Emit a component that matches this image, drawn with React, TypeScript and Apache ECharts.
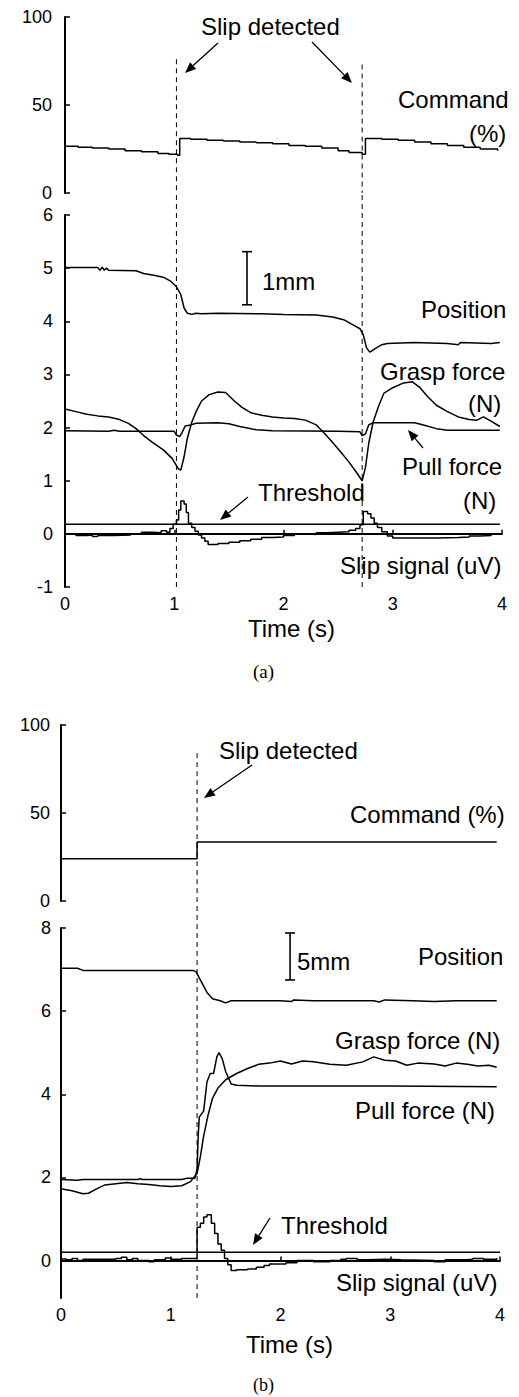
import { useEffect, useRef } from "react";
import * as echarts from "echarts";

type Pt = [number, number];

const SANS = '"Liberation Sans", Arial, Helvetica, sans-serif';
const SERIF = '"Liberation Serif", "Times New Roman", serif';

// ---------- shared axis values ----------
const timeTicks = [0, 1, 2, 3, 4];
const commandTicks = [0, 50, 100];
const lowerTicksA = [-1, 0, 1, 2, 3, 4, 5, 6];
const lowerTicksB = [0, 2, 4, 6, 8];

// ---------- panel (a) ----------
const slipTimesA = [1.02, 2.72];
const dashTopA = [76, 73];

const commandA: Pt[] = [
  [0, 26.5], [0.12, 26], [0.25, 25.5], [0.4, 25], [0.55, 24], [0.7, 23.5],
  [0.85, 22.5], [0.95, 22], [1.03, 21.5], [1.05, 31], [1.15, 30.5], [1.3, 30],
  [1.45, 29.5], [1.6, 29], [1.75, 28.5], [1.9, 28], [2.05, 27], [2.2, 26.5],
  [2.35, 25.5], [2.5, 24], [2.6, 23], [2.72, 22], [2.75, 31], [2.9, 30.5],
  [3.05, 30], [3.2, 29], [3.35, 28], [3.5, 27], [3.65, 26], [3.8, 25], [3.96, 24],
];

const positionA: Pt[] = [
  [0, 5.01], [0.3, 5.01], [0.32, 4.96], [0.34, 5.02], [0.36, 4.96], [0.38, 5.0],
  [0.4, 4.96], [0.65, 4.95], [0.72, 4.9], [0.8, 4.87], [0.9, 4.83], [0.97, 4.75],
  [1.02, 4.65], [1.06, 4.5], [1.09, 4.25], [1.12, 4.15], [1.16, 4.13], [1.2, 4.15],
  [1.25, 4.14], [1.4, 4.15], [1.8, 4.14], [2.0, 4.13], [2.3, 4.12], [2.45, 4.08],
  [2.55, 4.03], [2.62, 3.95], [2.7, 3.86], [2.73, 3.75], [2.76, 3.5], [2.79, 3.42],
  [2.85, 3.5], [2.9, 3.56], [2.95, 3.58], [3.2, 3.6], [3.5, 3.58], [3.6, 3.56],
  [3.62, 3.6], [3.9, 3.58], [3.98, 3.6],
];

const graspA: Pt[] = [
  [0, 2.35], [0.1, 2.3], [0.2, 2.25], [0.3, 2.22], [0.4, 2.2], [0.5, 2.15],
  [0.58, 2.08], [0.65, 1.98], [0.72, 1.85], [0.8, 1.72], [0.9, 1.58], [0.98, 1.42],
  [1.04, 1.22], [1.06, 1.2], [1.09, 1.45], [1.12, 1.8], [1.16, 2.1], [1.2, 2.3],
  [1.25, 2.5], [1.32, 2.62], [1.4, 2.67], [1.47, 2.66], [1.55, 2.5], [1.62, 2.38],
  [1.7, 2.28], [1.8, 2.23], [1.9, 2.2], [2.0, 2.18], [2.1, 2.17], [2.2, 2.14],
  [2.3, 2.05], [2.38, 1.88], [2.45, 1.72], [2.52, 1.55], [2.6, 1.35], [2.67, 1.15],
  [2.72, 1.0], [2.75, 1.25], [2.78, 1.7], [2.82, 2.1], [2.87, 2.4], [2.92, 2.65],
  [3.0, 2.75], [3.1, 2.84], [3.18, 2.86], [3.25, 2.75], [3.32, 2.58], [3.4, 2.42],
  [3.5, 2.3], [3.6, 2.2], [3.7, 2.15], [3.77, 2.14], [3.83, 2.2], [3.9, 2.12],
  [3.98, 2.02],
];

const pullA: Pt[] = [
  [0, 1.94], [0.4, 1.93], [0.45, 1.95], [0.5, 1.93], [1.0, 1.93], [1.02, 1.86],
  [1.05, 1.83], [1.07, 1.9], [1.1, 2.03], [1.15, 2.05], [1.2, 2.08], [1.4, 2.09],
  [1.5, 2.07], [1.6, 2.02], [1.75, 1.96], [1.9, 1.94], [2.5, 1.93], [2.7, 1.92],
  [2.72, 1.85], [2.75, 1.88], [2.78, 2.05], [2.82, 2.09], [3.2, 2.09], [3.28, 2.05],
  [3.4, 1.98], [3.5, 1.95], [3.7, 1.95], [3.98, 1.95],
];

const slipA: Pt[] = [
  [0, 0.0], [0.1, -0.03], [0.2, -0.02], [0.25, -0.05], [0.3, -0.03], [0.45, -0.02],
  [0.6, 0.0], [0.7, 0.03], [0.8, 0.02], [0.88, 0.06], [0.93, 0.03], [0.96, 0.1],
  [0.99, 0.18], [1.02, 0.26], [1.04, 0.45], [1.06, 0.62], [1.09, 0.56], [1.11, 0.4],
  [1.13, 0.2], [1.16, 0.12], [1.19, 0.05], [1.22, -0.02], [1.25, -0.08], [1.28, -0.14],
  [1.31, -0.2], [1.4, -0.18], [1.5, -0.16], [1.6, -0.13], [1.7, -0.1], [1.8, -0.07],
  [1.9, -0.06], [2.0, -0.03], [2.1, 0.0], [2.2, -0.01], [2.3, 0.02], [2.4, 0.03],
  [2.5, 0.04], [2.6, 0.07], [2.66, 0.1], [2.7, 0.17], [2.73, 0.42], [2.77, 0.38],
  [2.8, 0.3], [2.83, 0.2], [2.86, 0.12], [2.9, 0.04], [2.95, -0.04], [3.0, -0.08],
  [3.2, -0.08], [3.4, -0.07], [3.6, -0.06], [3.7, -0.04], [3.8, -0.03], [3.9, 0.0],
  [3.98, -0.02],
];

const thresholdA: Pt[] = [[0, 0.18], [3.98, 0.18]];
const scaleBarA: Pt[] = [[1.666, 4.31], [1.666, 5.31]]; // 1 mm

// ---------- panel (b) ----------
const slipTimesB = [1.24];
const dashTopB = [84];

const commandB: Pt[] = [[0, 24], [1.24, 24], [1.24, 33.5], [3.97, 33.5]];

const positionB: Pt[] = [
  [0, 7.03], [0.15, 7.03], [0.2, 6.98], [1.2, 6.98], [1.23, 6.95], [1.28, 6.7],
  [1.33, 6.45], [1.38, 6.3], [1.45, 6.25], [1.5, 6.2], [1.55, 6.25], [2.0, 6.25],
  [2.1, 6.23], [2.12, 6.27], [2.3, 6.25], [2.85, 6.25], [2.9, 6.22], [2.95, 6.27],
  [3.2, 6.25], [3.4, 6.23], [3.6, 6.25], [3.97, 6.25],
];

const graspB: Pt[] = [
  [0, 1.73], [0.1, 1.68], [0.2, 1.61], [0.25, 1.62], [0.32, 1.72], [0.4, 1.82],
  [0.5, 1.85], [0.6, 1.88], [0.7, 1.85], [0.8, 1.83], [0.9, 1.8], [1.0, 1.78],
  [1.1, 1.8], [1.18, 1.9], [1.24, 2.1], [1.27, 2.5], [1.3, 3.0], [1.34, 3.5],
  [1.38, 3.9], [1.43, 4.15], [1.5, 4.35], [1.6, 4.5], [1.7, 4.62], [1.8, 4.72],
  [1.9, 4.75], [2.0, 4.8], [2.1, 4.73], [2.2, 4.8], [2.3, 4.78], [2.45, 4.72],
  [2.6, 4.7], [2.75, 4.78], [2.85, 4.9], [2.95, 4.82], [3.05, 4.8], [3.15, 4.7],
  [3.25, 4.75], [3.4, 4.73], [3.5, 4.68], [3.6, 4.75], [3.7, 4.72], [3.8, 4.68],
  [3.9, 4.7], [3.97, 4.65],
];

const pullB: Pt[] = [
  [0, 1.95], [0.15, 1.93], [0.2, 1.95], [0.7, 1.95], [0.72, 1.97], [0.74, 1.95],
  [1.1, 1.95], [1.15, 1.98], [1.22, 1.98], [1.24, 2.2], [1.25, 3.0], [1.26, 3.45],
  [1.3, 3.6], [1.33, 4.3], [1.36, 4.5], [1.39, 4.5], [1.42, 4.9], [1.44, 5.0],
  [1.47, 4.85], [1.5, 4.55], [1.55, 4.25], [1.6, 4.22], [1.8, 4.2], [2.5, 4.2],
  [3.0, 4.2], [3.97, 4.18],
];

const slipB: Pt[] = [
  [0, 0.04], [0.05, 0.02], [0.1, 0.05], [0.15, 0.0], [0.2, 0.03], [0.5, 0.05],
  [0.55, 0.08], [0.6, 0.02], [0.65, 0.05], [0.7, 0.0], [0.8, -0.03], [0.85, 0.02],
  [0.95, 0.06], [1.0, 0.03], [1.1, 0.05], [1.22, 0.05], [1.24, 0.8], [1.27, 0.9],
  [1.3, 1.05], [1.33, 1.1], [1.37, 0.9], [1.4, 0.65], [1.43, 0.4], [1.46, 0.25],
  [1.49, 0.05], [1.52, -0.1], [1.55, -0.24], [1.6, -0.22], [1.7, -0.2], [1.78, -0.16],
  [1.85, -0.12], [1.9, -0.08], [2.05, -0.05], [2.15, 0.0], [2.3, -0.03], [2.45, 0.0],
  [2.55, 0.03], [2.6, 0.05], [2.7, 0.02], [2.8, 0.03], [2.95, 0.02], [3.1, 0.01],
  [3.3, 0.0], [3.4, -0.03], [3.5, 0.02], [3.7, 0.03], [3.75, 0.05], [3.85, 0.03],
  [3.97, 0.06],
];

const thresholdB: Pt[] = [[0, 0.2], [4, 0.2]];
const scaleBarB: Pt[] = [[2.087, 6.75], [2.087, 7.88]]; // 5 mm

// ---------- styling helpers ----------
const INK = "#000";

const trace = (data: Pt[], xi: number, step?: string) => ({
  type: "line",
  xAxisIndex: xi,
  yAxisIndex: xi,
  data,
  showSymbol: false,
  step: step || false,
  lineStyle: { color: INK, width: 1.5 },
  silent: true,
});

const dashed = (t: number, y0: number, y1: number, xi: number) => ({
  type: "line",
  xAxisIndex: xi,
  yAxisIndex: xi,
  data: [[t, y0], [t, y1]],
  showSymbol: false,
  clip: false,
  lineStyle: { color: INK, width: 1, type: [5, 4] },
  silent: true,
});

const scaleBar = (data: Pt[], xi: number) => ({
  type: "line",
  xAxisIndex: xi,
  yAxisIndex: xi,
  data,
  symbol: "rect",
  symbolSize: [10, 1.6],
  showSymbol: true,
  itemStyle: { color: INK },
  lineStyle: { color: INK, width: 1.6 },
  silent: true,
});

const xAxisVisible = (gi: number) => ({
  type: "value",
  gridIndex: gi,
  min: 0,
  max: 4,
  axisLine: { show: true, lineStyle: { color: INK, width: 2 } },
  axisTick: {
    show: true,
    inside: true,
    length: 4,
    customValues: timeTicks,
    lineStyle: { color: INK, width: 1.5 },
  },
  axisLabel: { color: INK, fontSize: 18, fontFamily: SANS, margin: 8, customValues: timeTicks },
  splitLine: { show: false },
});

const xAxisHidden = (gi: number) => ({
  type: "value",
  gridIndex: gi,
  min: 0,
  max: 4,
  show: false,
});

const yAxis = (gi: number, margin: number, min: number, max: number, ticks: number[]) => ({
  type: "value",
  gridIndex: gi,
  min,
  max,
  axisLine: { show: true, onZero: false, lineStyle: { color: INK, width: 2 } },
  axisTick: {
    show: true,
    inside: true,
    length: 5,
    customValues: ticks,
    lineStyle: { color: INK, width: 1.5 },
  },
  axisLabel: { color: INK, fontSize: 18, fontFamily: SANS, margin, customValues: ticks },
  splitLine: { show: false },
});

const label = (text: string, x: number, y: number, size = 24, family = SANS) => ({
  type: "text",
  x,
  y,
  silent: true,
  style: {
    text,
    fill: INK,
    fontSize: size,
    fontFamily: family,
    textAlign: "left",
    textVerticalAlign: "middle",
  },
});

const arrow = (x1: number, y1: number, x2: number, y2: number) => {
  const dx = x2 - x1;
  const dy = y2 - y1;
  const len = Math.hypot(dx, dy);
  const ux = dx / len;
  const uy = dy / len;
  const hl = 11;
  const hw = 4.5;
  const bx = x2 - ux * hl;
  const by = y2 - uy * hl;
  return [
    {
      type: "line",
      silent: true,
      shape: { x1, y1, x2: bx, y2: by },
      style: { stroke: INK, lineWidth: 1.3 },
    },
    {
      type: "polygon",
      silent: true,
      shape: {
        points: [
          [x2, y2],
          [bx - uy * hw, by + ux * hw],
          [bx + uy * hw, by - ux * hw],
        ],
      },
      style: { fill: INK },
    },
  ];
};

export default function App() {
  const ref = useRef<HTMLDivElement>(null);

  useEffect(() => {
    if (!ref.current) return;
    const chart = echarts.init(ref.current, undefined, { renderer: "svg" });

    const option: any = {
      animation: false,
      backgroundColor: "#fff",
      grid: [
        { left: 65, top: 17, width: 437, height: 176 },
        { left: 65, top: 215, width: 437, height: 372 },
        { left: 61, top: 725, width: 439, height: 176 },
        { left: 61, top: 928, width: 439, height: 370 },
      ],
      xAxis: [xAxisHidden(0), xAxisVisible(1), xAxisHidden(2), xAxisVisible(3)],
      yAxis: [
        yAxis(0, 13, 0, 100, commandTicks),
        yAxis(1, 12, -1, 6, lowerTicksA),
        yAxis(2, 11, 0, 100, commandTicks),
        yAxis(3, 10, -0.9, 8, lowerTicksB),
      ],
      series: [
        // (a) command
        trace(commandA, 0, "end"),
        // (a) lower traces
        trace(positionA, 1),
        trace(graspA, 1),
        trace(pullA, 1),
        trace(slipA, 1, "end"),
        trace(thresholdA, 1),
        scaleBar(scaleBarA, 1),
        ...slipTimesA.map((t, i) => dashed(t, dashTopA[i], 0, 0)),
        ...slipTimesA.map((t) => dashed(t, -1, 6.42, 1)),
        // (b) command
        trace(commandB, 2),
        // (b) lower traces
        trace(positionB, 3),
        trace(graspB, 3),
        trace(pullB, 3),
        trace(slipB, 3, "end"),
        trace(thresholdB, 3),
        scaleBar(scaleBarB, 3),
        ...slipTimesB.map((t, i) => dashed(t, dashTopB[i], 0, 2)),
        ...slipTimesB.map((t) => dashed(t, -0.9, 8.65, 3)),
      ],
      graphic: [
        // panel (a)
        label("Slip detected", 201, 26),
        ...arrow(218, 43, 185, 73),
        ...arrow(312, 42, 352, 83),
        label("Command", 398, 99),
        label("(%)", 469, 133),
        label("1mm", 262, 281),
        label("Position", 421, 309),
        label("Grasp force", 380, 371),
        label("(N)", 468, 403),
        ...arrow(423, 448, 408, 430),
        label("Pull force", 402, 466),
        label("(N)", 463, 500),
        label("Threshold", 258, 492),
        ...arrow(248, 497, 220, 520),
        label("Slip signal (uV)", 340, 565),
        label("Time (s)", 248, 628),
        label("(a)", 253, 671, 19, SERIF),
        // panel (b)
        label("Slip detected", 219, 750),
        ...arrow(252, 765, 204, 798),
        label("Command (%)", 350, 814),
        label("5mm", 297, 961),
        label("Position", 418, 956),
        label("Grasp force (N)", 335, 1040),
        label("Pull force (N)", 355, 1110),
        label("Threshold", 281, 1225),
        ...arrow(270, 1218, 253, 1245),
        label("Slip signal (uV)", 336, 1282),
        label("Time (s)", 246, 1344),
        label("(b)", 253, 1385, 18, SERIF),
      ],
    };

    chart.setOption(option);
    return () => chart.dispose();
  }, []);

  return (
    <div
      ref={ref}
      style={{ position: "absolute", left: 0, top: 0, width: 519, height: 1397, background: "#fff" }}
    />
  );
}
